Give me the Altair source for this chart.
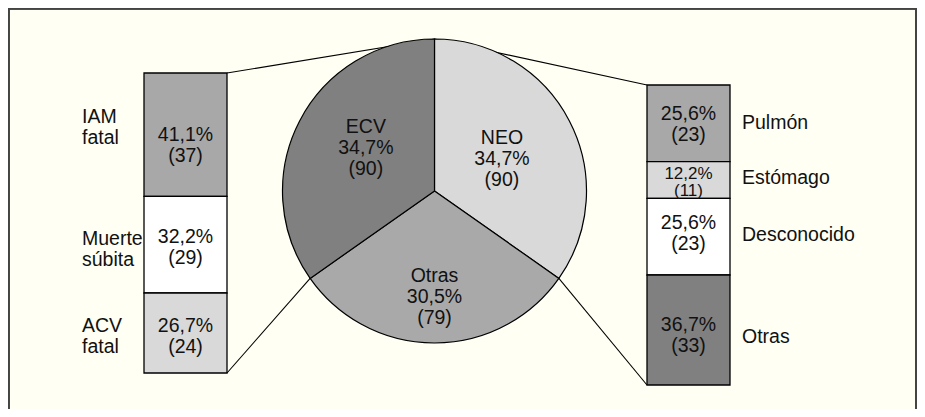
import math
import altair as alt
import pandas as pd

# ---------------- data ----------------
pie_cats = ["NEO", "Otras", "ECV"]
pie_pct = [34.7, 30.5, 34.7]
pie_n = [90, 79, 90]

left_labels = ["IAM\nfatal", "Muerte\nsúbita", "ACV\nfatal"]
left_pct = [41.1, 32.2, 26.7]
left_n = [37, 29, 24]

right_labels = ["Pulmón", "Estómago", "Desconocido", "Otras"]
right_pct = [25.6, 12.2, 25.6, 36.7]
right_n = [23, 11, 23, 33]

# ---------------- styles / layout ----------------
pie_fill = ["#d9d9d9", "#a9a9a9", "#808080"]
left_fill = ["#a8a8a8", "#ffffff", "#d9d9d9"]
right_fill = ["#a8a8a8", "#d9d9d9", "#ffffff", "#808080"]
pie_label_r = [76, 105, 83]
pie_label_dx = [0, 0, 5]
pie_label_dy = [3, 1, -5]
# label nudges in pixels (applied through the bar's own scale)
left_val_dy = [11, 3, 3]
left_lab_dy = [-7, 5, 3.5]
right_val_dy = [1.5, 2, -3.5, 5]
right_lab_dy = [0, -2.5, -1.5, 7]

FONT = "Liberation Sans"
FS = 19.5
LH = 21
BG = "#fffff4"
W, H = 909, 401
CX, CY, R = 426.5, 183, 152
LBAR = (136, 219, 65, 365)   # x0, x1, top, bottom
RBAR = (639, 722, 77, 377)
LLAB_X = 74
RLAB_X = 734


def fmt(p):
    return f"{p:.1f}".replace(".", ",") + "%"


def bar_df(labels, pct, n, fill, vdy, ldy, geom):
    per_px = sum(n) / (geom[3] - geom[2])
    df = pd.DataFrame({"cat": labels, "pct": pct, "n": n, "fill": fill})
    df["idx"] = range(len(df))
    df["end"] = df["n"].cumsum()
    df["start"] = df["end"] - df["n"]
    df["mid"] = (df["start"] + df["end"]) / 2
    df["vmid"] = df["mid"] + pd.Series(vdy) * per_px
    df["lmid"] = df["mid"] + pd.Series(ldy) * per_px
    df["label"] = [fmt(p) + "\n(" + str(k) + ")" for p, k in zip(pct, n)]
    return df


ldf = bar_df(left_labels, left_pct, left_n, left_fill, left_val_dy, left_lab_dy, LBAR)
rdf = bar_df(right_labels, right_pct, right_n, right_fill, right_val_dy, right_lab_dy, RBAR)

tot = sum(pie_n)
pdf = pd.DataFrame({"cat": pie_cats, "pct": pie_pct, "n": pie_n,
                    "fill": pie_fill, "lr": pie_label_r,
                    "ldx": pie_label_dx, "ldy": pie_label_dy})
pdf["idx"] = range(len(pdf))
pdf["cum"] = pdf["n"].cumsum()
pdf["mid_th"] = 2 * math.pi * (pdf["cum"] - pdf["n"] / 2) / tot
pdf["label"] = [c + "\n" + fmt(p) + "\n(" + str(k) + ")"
                for c, p, k in zip(pie_cats, pie_pct, pie_n)]


def bar_layers(df, geom, lab_x, side_lines):
    x0, x1, top, bottom = geom
    ys = alt.Scale(domain=[0, int(df["n"].sum())], range=[top, bottom],
                   nice=False, zero=False)
    base = alt.Chart(df)
    rect = base.mark_rect(stroke="black", strokeWidth=1.3).encode(
        x=alt.value(x0), x2=alt.value(x1),
        y=alt.Y("start:Q", scale=ys, axis=None), y2="end:Q",
        fill=alt.Fill("fill:N", scale=None),
    )
    big = base.transform_filter("datum.n >= 15").mark_text(
        font=FONT, fontSize=FS, lineHeight=LH, lineBreak="\n", dy=-LH / 2,
        align="center", baseline="middle", color="#111"
    ).encode(x=alt.value((x0 + x1) / 2),
             y=alt.Y("vmid:Q", scale=ys, axis=None),
             text="label:N")
    small = base.transform_filter("datum.n < 15").mark_text(
        font=FONT, fontSize=17, lineHeight=17, lineBreak="\n", dy=-8.5,
        align="center", baseline="middle", color="#111"
    ).encode(x=alt.value((x0 + x1) / 2),
             y=alt.Y("vmid:Q", scale=ys, axis=None),
             text="label:N")
    side = base.mark_text(
        font=FONT, fontSize=FS, lineHeight=LH, lineBreak="\n",
        dy=-(side_lines - 1) * LH / 2,
        align="left", baseline="middle", color="#111"
    ).encode(x=alt.value(lab_x),
             y=alt.Y("lmid:Q", scale=ys, axis=None),
             text="cat:N")
    return [rect, big, small, side]


# pie
pie = alt.Chart(pdf).mark_arc(outerRadius=R, stroke="black", strokeWidth=1.2).encode(
    theta=alt.Theta("n:Q", stack=True),
    order=alt.Order("idx:Q"),
    fill=alt.Fill("fill:N", scale=None),
    x=alt.value(CX), y=alt.value(CY),
)
pie_txt = alt.Chart(pdf).mark_text(
    font=FONT, fontSize=FS, lineHeight=LH, lineBreak="\n", dy=-LH,
    align="center", baseline="middle", color="#111"
).encode(
    theta=alt.Theta("mid_th:Q", scale=None),
    radius=alt.Radius("lr:Q", scale=None),
    text="label:N",
    x=alt.value(CX), y=alt.value(CY),
    xOffset=alt.XOffset("ldx:Q", scale=None),
    yOffset=alt.YOffset("ldy:Q", scale=None),
)

# connector lines derived from pie angles and bar geometry
th0 = 2 * math.pi * pie_n[0] / tot
th1 = 2 * math.pi * (pie_n[0] + pie_n[1]) / tot


def pt(th):
    return CX + R * math.sin(th), CY - R * math.cos(th)


top_pt = pt(0)
p0 = pt(th0)
p1 = pt(th1)
conn = pd.DataFrame({
    "x": [LBAR[1], LBAR[1], top_pt[0], p0[0]],
    "y": [LBAR[2], LBAR[3], top_pt[1], p0[1]],
    "x2": [top_pt[0], p1[0], RBAR[0], RBAR[0]],
    "y2": [top_pt[1], p1[1], RBAR[2], RBAR[3]],
})
lines = alt.Chart(conn).mark_rule(color="black", strokeWidth=1.1).encode(
    x=alt.X("x:Q", scale=None), y=alt.Y("y:Q", scale=None),
    x2="x2:Q", y2="y2:Q",
)

# frame (left, top, right sides)
frame_l = alt.Chart(conn).mark_rule(color="#444", strokeWidth=1.6).encode(
    x=alt.value(0.8), y=alt.value(0), y2=alt.value(H))
frame_t = alt.Chart(conn).mark_rule(color="#444", strokeWidth=1.6).encode(
    x=alt.value(0), x2=alt.value(W), y=alt.value(0.8))
frame_r = alt.Chart(conn).mark_rule(color="#444", strokeWidth=1.6).encode(
    x=alt.value(W - 1), y=alt.value(0), y2=alt.value(H))

layers = [frame_l, frame_t, frame_r, lines, pie, pie_txt] + \
    bar_layers(ldf, LBAR, LLAB_X, 2) + bar_layers(rdf, RBAR, RLAB_X, 1)

chart = alt.layer(*layers).resolve_scale(
    x="independent", y="independent"
).properties(
    width=W, height=H, padding=0,
    autosize=alt.AutoSizeParams(type="none"),
    background=BG,
).configure_view(stroke=None)

chart.save("out.html", embed_options={"renderer": "svg", "actions": False})
